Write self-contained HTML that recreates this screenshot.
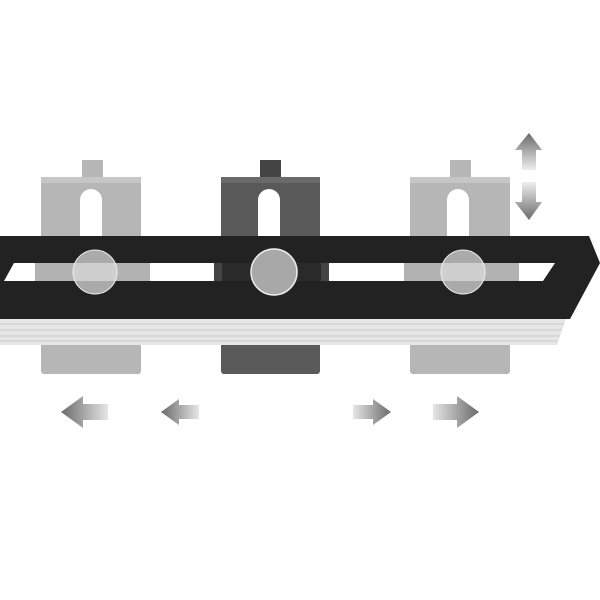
<!DOCTYPE html>
<html><head><style>html,body{margin:0;padding:0;background:#fff}svg{display:block}</style></head>
<body>
<svg width="600" height="600" viewBox="0 0 600 600" xmlns="http://www.w3.org/2000/svg">
<defs>
<linearGradient id="gl" x1="0" x2="1" y1="0" y2="0"><stop offset="0" stop-color="#6a6a6a"/><stop offset="1" stop-color="#e6e6e6"/></linearGradient>
<linearGradient id="gr" x1="1" x2="0" y1="0" y2="0"><stop offset="0" stop-color="#6a6a6a"/><stop offset="1" stop-color="#e6e6e6"/></linearGradient>
<linearGradient id="gu" x1="0" x2="0" y1="0" y2="1"><stop offset="0" stop-color="#6a6a6a"/><stop offset="1" stop-color="#eeeeee"/></linearGradient>
<linearGradient id="gd" x1="0" x2="0" y1="1" y2="0"><stop offset="0" stop-color="#6a6a6a"/><stop offset="1" stop-color="#eeeeee"/></linearGradient>
</defs>
<!-- brackets -->
<g fill="#b6b6b6">
<rect x="82" y="160" width="21" height="18"/><rect x="41" y="177" width="100" height="62"/><rect x="41" y="340" width="100" height="34" rx="3"/>
<rect x="450" y="160" width="21" height="18"/><rect x="410" y="177" width="100" height="62"/><rect x="410" y="340" width="100" height="34" rx="3"/>
</g>
<rect x="260" y="160" width="21" height="18" fill="#444"/>
<rect x="221" y="177" width="99" height="62" fill="#595959"/>
<rect x="221" y="340" width="99" height="34" rx="3" fill="#5a5a5a"/>
<rect x="41" y="177" width="100" height="6" fill="#c6c6c6"/>
<rect x="410" y="177" width="100" height="6" fill="#c6c6c6"/>
<rect x="221" y="177" width="99" height="6" fill="#6a6a6a"/>
<g fill="#fff">
<path d="M80 239 V200 a11 11 0 0 1 22 0 V239 Z"/>
<path d="M258 239 V200 a11 11 0 0 1 22 0 V239 Z"/>
<path d="M447 239 V200 a11 11 0 0 1 22 0 V239 Z"/>
</g>
<!-- bar -->
<path d="M0 236 H589 L600 263 L570 319 H0 Z" fill="#222"/>
<path d="M0 319 H566 L557 345 H0 Z" fill="#e6e6e6"/>
<g stroke="#cfcfcf" stroke-width="1.2"><line x1="0" y1="324" x2="564" y2="324"/><line x1="0" y1="330" x2="562" y2="330"/><line x1="0" y1="336" x2="560" y2="336"/><line x1="0" y1="341" x2="558" y2="341"/></g>
<path d="M14 263 H555 L543 281 H4 Z" fill="#fff"/>
<rect x="35" y="263" width="115" height="18" fill="#b2b2b2"/>
<rect x="404" y="263" width="115" height="18" fill="#b2b2b2"/>
<rect x="214" y="263" width="115" height="18" fill="#2a2a2a"/>
<rect x="214" y="263" width="8" height="18" fill="#444"/><rect x="321" y="263" width="8" height="18" fill="#444"/>
<!-- circles -->
<ellipse cx="95" cy="272" rx="22" ry="22" fill="#d8d8d8" fill-opacity="0.75" stroke="#eee" stroke-width="1"/>
<ellipse cx="274" cy="272" rx="23" ry="23" fill="#a8a8a8" stroke="#eee" stroke-width="1.5"/>
<ellipse cx="463" cy="272" rx="22" ry="22" fill="#d8d8d8" fill-opacity="0.75" stroke="#eee" stroke-width="1"/>
<!-- arrows -->
<path d="M61 412 L83 396 V404 H108 V420 H83 V428 Z" fill="url(#gl)"/>
<path d="M161 412 L179 399 V405 H199 V419 H179 V425 Z" fill="url(#gl)"/>
<path d="M391 412 L373 399 V405 H353 V419 H373 V425 Z" fill="url(#gr)"/>
<path d="M479 412 L457 396 V404 H433 V420 H457 V428 Z" fill="url(#gr)"/>
<path d="M529 133 L542 150 H536 V170 H522 V150 H515 Z" fill="url(#gu)"/>
<path d="M529 220 L542 202 H536 V182 H522 V202 H515 Z" fill="url(#gd)"/>
</svg>
</body></html>
